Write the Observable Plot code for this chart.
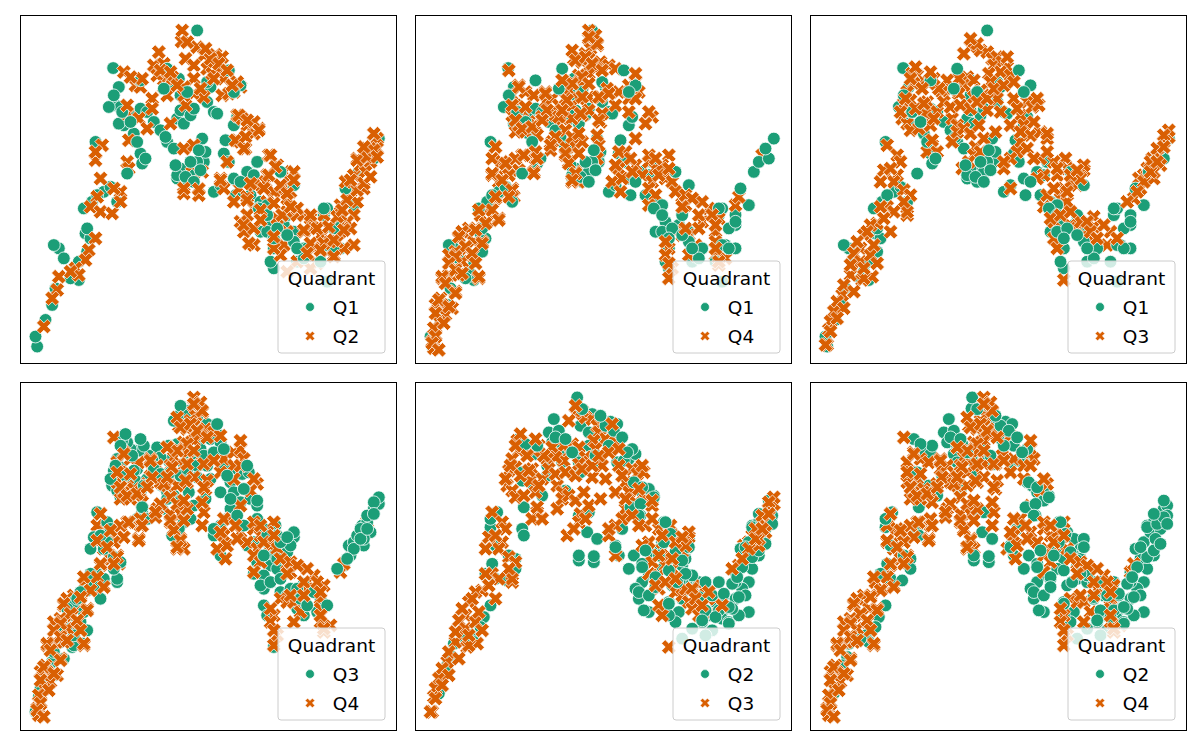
<!DOCTYPE html>
<html>
<head>
<meta charset="utf-8">
<script src="https://cdn.jsdelivr.net/npm/d3@7"></script>
<script src="https://cdn.jsdelivr.net/npm/@observablehq/plot@0.6"></script>
<style>
  html, body { margin: 0; padding: 0; background: #fff; }
  #fig { position: relative; width: 1200px; height: 750px; background: #fff; }
  #fig svg { position: absolute; overflow: visible; }
</style>
</head>
<body>
<div id="fig"></div>
<script>
// ---- data: 2-D embedding coordinates of points, grouped by quadrant ----
const q1 = [[53,100.5],[27.8,89.2],[29.5,83.5],[28.5,78],[30,77.5],[31,72],[29.5,72.5],[34,69.5],[36,63.5],[36.5,60.5],
[34,75],[36,77],[38,76],[40,73],[42,70.5],[44,67],[46,65],[43.5,68.5],[47,74],[49,72.5],[48,76.5],[51,75],[52,77],[56,79],
[58,76],[59,75.5],[57,83.5],[56,85],[47.5,86],[45,85],[48,81],[22.5,67],[26.5,77.5],[47,56],[49,58],[50,55],[48,59],[52,58],
[55,61],[55.5,64],[54.5,68],[58,52],[60,54],[61,63.5],[64,72],[65,74.5],[61.5,67.5],[62.5,61],[64.5,51],[69,51],[68,58],
[71,61],[70,57],[72,49],[72,40],[75,43],[79,42],[76,35],[76,29],[75,31],[82,40],[80,45],[83,31],[85,35],[92,25],[91,45],
[92,47],[96,42],[93,36],[96,45],[100,48],[97.5,53],[101.5,58],[103,61],[106,62],[105,65],[107.5,68],[96,35],[86,35],
[5,5.5],[4.5,8.5],[7.5,13.5],[9.5,18],[11.5,35],[10,36],[13,32],[16,28],[17.5,25.5],[15,26],[19.5,39.5],[21,38],[17.5,31],
[19,47],[21.5,49],[25,52],[27,53.5],[29,49],[23,51],[20,41],[20,34],[10.5,23],[32,57.5],[37.5,62],[62.5,88.5],[66,84],
[64,82],[36,85.5],[44,89],[43,83],[50,82],[53,61],[78,58],[82,54],[74,48],[74,40],[77,41],[82,37],[85,32],
[47,57],[49.5,56.5],[52,55],[54,58.5],[51,61],[46.5,60],[53.5,64.5],[64,56],[66,55],[71.5,47],[74,45],[76,38],[80,39],[83,35],
[91,47],[94,41],[96,43],[92,36],[94,35],[90,31],[28,81],[30.5,76],[33,73],[35,67]];

const q2 = [[48.3,97.2],[53,95.5],[55,93],[58.5,93.2],[60.5,92.5],[49.5,92],[52,90],[40,90],[43,90.5],[41,87],[44,86],
[45.5,86.5],[52,86],[56,89],[57.5,87.5],[60,88],[61,86],[31,88],[34.5,84],[36,83.5],[49,83.5],[43,83.5],[52,81.5],[55,80.5],
[60.5,81],[64,82],[66,83.5],[62.5,81.5],[39.5,80],[44,81],[39.5,77],[45,72.5],[49.5,78],[49,81],[32,75.5],[35.5,74],[38,71],
[32.5,67.5],[24.5,66],[22.5,61.5],[32,61],[32.5,59],[49,65],[52,66],[51.5,60],[54.5,58],[49,51.5],[53.5,51],[65,75],[66.5,74],
[68,72],[71.5,71],[70,69.5],[65,67.5],[67.5,65],[62,61],[66,67],[70,73],[74.5,63],[77,60],[79,58],[74,57],[73.5,55],[82,58],
[81,55],[79,53],[76,52],[60,56],[61,53],[65.5,53],[64,49],[68,50.5],[70,54],[70,47],[72,46],[74,49],[68,45],[66,43],[67,40],
[70,36],[77,44],[80,46],[83,45],[76,39],[79,36],[78,33],[76,35],[80,40],[80,50],[81,52],[85,45],[87,44],[88,41],[85,40],
[90,39],[92.5,41],[91,45],[93,37],[92,34],[94,33],[96,40],[88,35],[86,33],[89,30.5],[83,31],[80,28],[87,29],[96,48],[99,52],
[97.5,55],[100,57],[102,60],[101,62],[103,63],[104,65],[106,67],[107,68],[105,61],[107,65],[100,45],[98,43],[96,45],[101,49],
[103,53],[105,63],[103.5,58],[99,41],[100,36],[97,35],[95,37],[24,56],[23,50.5],[21,47.5],[24,46],[27.5,45.5],[30,52],[30,49],
[28,53],[22.5,38],[20.5,34.5],[19.5,31.5],[16.5,29],[17.5,27],[15,28],[11.5,26.5],[11,22.5],[9.5,20],[7,11.5],
[48.5,100.5],[41.5,94],[65,85],[32,78],[22.5,64],[49,53],[53.5,52.8],
[65.5,75],[68,73.5],[71.5,70.5],[64.5,67.5],[67.5,68.5],[67,65],[75,63],[76.5,59.5],[74.5,57],[78,54],[82,55.5],[60,55.5],
[69,54.5],[73,53],[80,51.5],[83,47],[68,49.5],[72,46.5],[76,48.5],[78.5,45],[81,47.5],[67,42],[70,41],[68.5,36.5],[76,38.5],
[72,43.5],[85,40.5],[87,45],[89,41],[92.5,41.5],[87,36.5],[91,36.5],[86,33.5],[90,34.5],[94,37.5],[95,44.5],[98,49.5],
[101,52.5],[99,55.5],[103,54.5],[101,61.5],[104,62.5],[106,64.5],[106,69.5],[103,65.5],[107,62.5],[105,56.5],[97,40.5],
[96.5,46.5],[94,32.5],[57,92],[59.5,90.5],[58,86],[62,88.5],[42,88.5],[45,88],[47,84],[54,83],[63.5,84],[36.5,86],[33,86.5],
[55.5,95],[50,97]];

const q3 = [[48,95.5],[51,94.5],[53,94],[54.5,92],[56,92.5],[50,96.5],[55,90],[57.5,91],[59,89.5],[57,88],[60,87],[53.5,87.5],
[54,85],[47,86.5],[46,84],[49,85.5],[51,82.5],[52,81],[49,80.5],[44.5,81.5],[44.5,86],[41,85.5],[42,82.5],[39.5,82],[38.5,83],
[35.5,84.5],[37,86],[33,85],[32,87],[30.5,87.5],[31,84.5],[29,82],[28,78.5],[30,79.5],[27.5,74],[29,72.5],[30,70.5],[32.5,71],
[34.5,75.5],[35,79],[38,76],[36,72],[36.5,66],[35,64],[38,64],[42.5,74],[44,72],[42.5,67],[44,70],[46,71],[48,69.5],[49.5,65.5],
[50.5,72],[52,68],[49,63],[51,64],[45.5,59],[47.5,61],[55.5,70],[57,76],[53,76.5],[61,80],[63,75],[65,79],[66.5,77.5],[68.5,78],
[64,72],[66,69],[69,70],[71,68],[63,67],[62,64],[58,59],[60,62],[69,62],[73,61],[76.5,62],[77,59],[82,58.5],[74,57],[70,57],
[68,56],[71,51],[76,53],[78,55],[80,54],[75,50],[77,49],[70,47.5],[73,47],[73,43],[78,42],[80,41],[81,43],[85,44.5],[85,41.5],
[82,39],[83,37],[90,40],[89,36],[85,35],[76,25.5],[73,38],[74,35],[60,53],[97,50],[99,53],[98.5,56],[100,57],[101,59],[102.5,62],
[104,63],[106,67],[107.5,68.5],[104,65],[102,61],[105,60],[103,56],[23,66],[26,63],[22,58.5],[26,57],[25,55],[28,52.5],[30,51],
[29,45],[23,47.5],[21,47.5],[20,42.5],[18,42],[24,40],[16,39],[15,35],[13,33.5],[15,31],[18,33],[20,30.5],[12,27],[18.5,26.5],
[15.5,25.5],[9.5,21],[8,19],[7,16],[6,13],[5.5,10.5],[5,6],[10,17],
[48,98],[31.5,89.5],[36,88],[46,93.5],[59,92.5],[27,76],[36.5,67.5],[56,80],[68,80],[71,69.5],[58,61],[82,60],[81,56],[72,44],
[29,46],[16,26],[4.5,6],[107.5,70.5],[106,69],[103,58],
[30,86],[33.5,83],[28.5,80],[31.5,77],[34,78.5],[37,74],[40,79],[42,77.5],[45,78],[48,77],[50,79],[53,80],[55,83],[58,84],
[61,85],[62,77],[60,72],[63,70],[67,73],[65,65],[67,62],[71,64],[74,59],[78,57],[80,58.5],[77,52],[73,53],[75,45],[78,46],
[83,43],[84,40],[88,42],[86,38],[92,38],[27,61],[24,59],[21,55],[28,49],[25,46],[22,44],[17,40],[19,36],[14,37],[12,30],
[16,29],[10,24],[13,22],[8,14],[6,10],[100,55],[102,58],[104,61],[106,65.5],[98,52],[95,49]];

const q4 = [[52,98],[54.5,96],[52.5,95],[51,93.5],[47.5,92],[50,91],[52,92],[55.5,91],[58,90],[60,89],[54,89],[52,87.5],[49,87],
[47,85],[44,85.5],[46,82.5],[50,84],[52,80.5],[55.5,80.5],[57.5,83],[61,82],[64,84],[66,85],[67,82],[64,80],[60,78],[64,76],
[66,80],[28,88.5],[31,84],[29,81],[33,82],[35.5,81],[39,82],[39,79],[41,80],[43,78],[45,80],[47,78],[49,80],[42,75],[44,74],
[47,74],[50,75],[55.5,73],[30,78],[32,76],[29,75],[30,70],[31,72],[34,73],[36,72],[38,74.5],[33,70],[36.5,69],[41,67],[40.5,64.5],
[45,65.5],[48,65.5],[50,67],[45,63],[46,61],[48,58],[47,55],[49,55],[55,66],[54.5,62],[36,62],[35.5,58],[32,63],[31,58.5],
[71,74.5],[69,72.5],[66,68],[24,65.5],[23,62],[26,61],[23,57],[27,59],[25,55],[28,57],[29,53],[27,52],[29.5,50.5],[59,55],
[61.5,52],[61,59],[63,64],[66,60],[68,57],[70,61],[72,59],[76,63],[74,60],[75,56],[77,55],[71,55],[70,53],[72,51],[70,48],
[80,50.5],[81,48],[76,35],[78,40],[80,39],[82,39],[84,36],[82,33],[77,29],[76,26],[86,43],[88,47],[91,44],[90,40],[90,37],
[90,33],[93,32],[96,48],[97,50.5],[104,63],[24,50],[22,47],[19.5,45],[25,44],[21.5,43],[18,41],[16,41],[14,40],[13,38],
[17.5,37],[15.5,35],[20,37],[12,34],[10,33],[17,33],[14,31],[12,29],[19,26],[10,27],[13,27],[8,26],[12,22],[7.5,20],[8,18],
[11,17],[9,15],[7,13],[6,9],[5.5,5],[5,7],
[52,100.5],[54,99],[47,94.5],[54.5,69],[36,64],[30,62],[70,76],[66,87.5],[91,30],[85,45],[86,49],[6,18],[5.5,11],
[31,83.5],[29,78],[33,77.5],[30,73.5],[32,71],[35,71.5],[39,81.5],[39.5,76.5],[38,73.5],[43,74.5],[45,70.5],[47,68.5],[49,69.5],
[42,68.5],[40.5,66],[45,63.5],[46,60.5],[49,63.5],[48,57.5],[47,55.5],[36.5,62],[35.5,57.5],[32.5,63],[24,65.5],[27,60.5],
[23,57.5],[26,55.5],[29,52.5],[28,50.5],[24,50.5],[23,46.5],[25,43.5],[19,46.5],[21,42.5],[18,40.5],[13,38.5],[15,35.5],
[20,36.5],[17,33.5],[12,32.5],[10,30.5],[18,30.5],[12,28.5],[8,26.5],[14,27.5],[19,26.5],[9,24.5],[12,21.5],[7,19.5],[10,17.5],
[6,15.5],[8.5,12.5],[6,8.5],[5,6.5],[7,4.5],[48,91.5],[51,92.5],[54.5,96.5],[52,98.5],[53,90.5],[56,88.5],[50,86.5],[47,84.5],
[44,85.5],[52,84.5],[55,80.5],[58,81.5],[50,80.5],[52,76.5],[56,75.5],[55,73.5],[49.5,75.5],[45.5,79.5],[44,76.5],
[61,64],[60,60],[62,56],[64.5,62],[65,58],[70,63],[72,62],[73,57],[76,59],[78,52],[81,51],[83,50],[80,47.5],[75,37],[75,33],
[76,30.5],[81,41],[85,41],[89,45],[90,42],[90,35],[91,31]];

const quadrants = {Q1: q1, Q2: q2, Q3: q3, Q4: q4};
const panelPairs = [["Q1","Q2"],["Q1","Q4"],["Q1","Q3"],["Q3","Q4"],["Q2","Q3"],["Q2","Q4"]];
const legendTitle = "Quadrant";
const colors = ["#1b9e77", "#d95f02"];

// filled "X" marker (matplotlib 'X' path)
const xVerts = [[-1,-2],[0,-1],[1,-2],[2,-1],[1,0],[2,1],[1,2],[0,1],[-1,2],[-2,1],[-1,0],[-2,-1]];
const filledX = {
  draw(ctx, size) {
    const r = Math.sqrt(size / Math.PI);
    const s = r / 2;
    ctx.moveTo(xVerts[0][0] * s, xVerts[0][1] * s);
    for (let i = 1; i < xVerts.length; i++) ctx.lineTo(xVerts[i][0] * s, xVerts[i][1] * s);
    ctx.closePath();
  }
};

const fig = document.getElementById("fig");
const colLeft = [20, 415, 810];
const rowTop = [15, 382];
const W = 376, H = 348;

panelPairs.forEach(([ga, gb], i) => {
  const A = quadrants[ga], B = quadrants[gb];
  const ha = Math.ceil(A.length / 2), hb = Math.ceil(B.length / 2);
  const dotA = (d) => Plot.dot(d, {x: "0", y: "1", r: 6.4, fill: colors[0], stroke: "white", strokeWidth: 0.8});
  const dotB = (d) => Plot.dot(d, {x: "0", y: "1", r: 7.3, symbol: filledX, fill: colors[1], stroke: "white", strokeWidth: 0.75});
  const plot = Plot.plot({
    width: W + 2, height: H + 2,
    marginTop: 1, marginBottom: 1, marginLeft: 1, marginRight: 1,
    x: {domain: [0, 112.8], axis: null},
    y: {domain: [0.4, 105], axis: null},
    marks: [
      dotA(A.slice(0, ha)),
      dotB(B.slice(0, hb)),
      dotA(A.slice(ha)),
      dotB(B.slice(hb)),
      Plot.frame({stroke: "black", strokeWidth: 1})
    ]
  });
  const c = i % 3, r = Math.floor(i / 3);
  plot.style.left = (colLeft[c] - 1) + "px";
  plot.style.top = (rowTop[r] - 1) + "px";
  fig.appendChild(plot);

  // legend (matplotlib style, lower right)
  const svg = d3.select(plot);
  const g = svg.append("g").attr("transform", `translate(${1 + 258},${1 + 246})`)
    .attr("font-family", "'DejaVu Sans', sans-serif").attr("font-size", "18.5px").attr("fill", "black");
  g.append("rect").attr("x", 0).attr("y", 0).attr("width", 107).attr("height", 92).attr("rx", 3)
    .attr("fill", "white").attr("fill-opacity", 0.8).attr("stroke", "#cccccc").attr("stroke-width", 1);
  g.append("text").attr("x", 53.5).attr("y", 24).attr("text-anchor", "middle").text(legendTitle);
  g.append("circle").attr("cx", 32).attr("cy", 46).attr("r", 4.4).attr("fill", colors[0]).attr("stroke", "white").attr("stroke-width", 0.6);
  g.append("text").attr("x", 68).attr("y", 52.5).text(ga);
  g.append("path").attr("transform", "translate(32,75)").attr("d", d3.symbol(filledX, Math.PI * 4.8 * 4.8)())
    .attr("fill", colors[1]).attr("stroke", "white").attr("stroke-width", 0.6);
  g.append("text").attr("x", 68).attr("y", 81.5).text(gb);
});
</script>
</body>
</html>
